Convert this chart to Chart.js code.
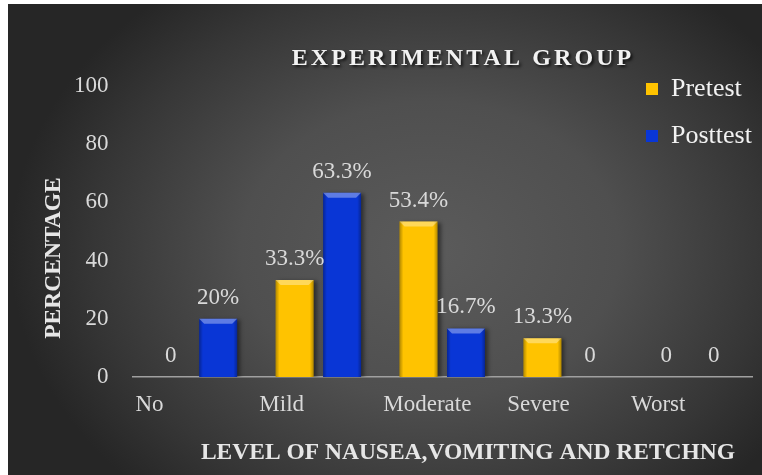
<!DOCTYPE html>
<html><head><meta charset="utf-8">
<script src="https://cdn.jsdelivr.net/npm/chart.js@4.4.1/dist/chart.umd.min.js"></script>
<style>html,body{margin:0;padding:0;background:#fff}canvas{display:block}</style>
</head><body>
<canvas id="c" width="762" height="475"></canvas>
<script>
const categories = ['No', 'Mild', 'Moderate', 'Severe', 'Worst'];
const seriesNames = ['Pretest', 'Posttest'];
const pretestValues = [0, 33.3, 53.4, 13.3, 0];
const posttestValues = [20, 63.3, 16.7, 0, 0];
const yTickValues = [0, 20, 40, 60, 80, 100];
const chartTitle = 'EXPERIMENTAL GROUP';
const xTitle = 'LEVEL OF NAUSEA,VOMITING AND RETCHNG';
const yTitle = 'PERCENTAGE';

const SERIF = "'Liberation Serif','Times New Roman',serif";

function centerBox(box, cx, total) {
  const half = Math.min(cx, total - cx);
  box.left = cx - half;
  box.right = cx + half;
  box.width = box.right - box.left;
}

const decor = {
  id: 'decor',
  beforeDraw(chart) {
    const c = chart.ctx;
    c.save();
    c.fillStyle = '#ffffff';
    c.fillRect(0, 0, chart.width, chart.height);
    c.beginPath();
    c.rect(8, 4, chart.width - 8, chart.height - 4);
    c.clip();
    const cx = 430, cy = 250, rx = 420, ry = 330;
    c.translate(cx, cy);
    c.scale(1, ry / rx);
    const g = c.createRadialGradient(0, 0, 0, 0, 0, rx);
    g.addColorStop(0, '#5b5b5b');
    g.addColorStop(0.45, '#4f4f4f');
    g.addColorStop(0.8, '#363636');
    g.addColorStop(1, '#262626');
    c.fillStyle = g;
    c.fillRect(-3000, -3000, 6000, 6000);
    c.restore();
  },
  afterLayout(chart) {
    const W = chart.width;
    const tb = chart.titleBlock;
    if (tb) {
      centerBox(tb, 463, W);
      if (!tb.__patched) {
        const orig = tb.draw.bind(tb);
        tb.draw = function (area) {
          const c = this.ctx;
          c.save();
          c.letterSpacing = '3.1px';
          c.shadowColor = 'rgba(0,0,0,0.7)';
          c.shadowOffsetX = 2;
          c.shadowOffsetY = 2;
          c.shadowBlur = 3;
          orig(area);
          c.restore();
        };
        tb.__patched = true;
      }
    }
    const sub = chart.boxes.find(b => b !== tb && b.options && b.options.text === xTitle);
    if (sub) centerBox(sub, 468, W);
    const lg = chart.legend;
    if (lg) {
      lg.left = 625;
      lg.top = 55;
    }
    const ys = chart.scales.y;
    if (ys && !ys.__patched) {
      const o = ys.drawTitle.bind(ys);
      ys.drawTitle = function () {
        const c = this.ctx;
        c.save();
        c.translate(0, 26.5);
        o();
        c.restore();
      };
      ys.__patched = true;
    }
  },
  beforeDatasetsDraw(chart) {
    const c = chart.ctx;
    c.save();
    c.shadowColor = 'rgba(0,0,0,0.45)';
    c.shadowOffsetX = 3;
    c.shadowOffsetY = 1;
    c.shadowBlur = 4;
  },
  afterDatasetsDraw(chart) {
    const c = chart.ctx;
    c.restore();
    chart.data.datasets.forEach((ds, di) => {
      const meta = chart.getDatasetMeta(di);
      meta.data.forEach((el) => {
        const p = el.getProps(['x', 'y', 'base', 'width'], true);
        const h = p.base - p.y;
        if (h < 1) return;
        const l = p.x - p.width / 2, r = p.x + p.width / 2;
        const g = c.createLinearGradient(l, 0, r, 0);
        g.addColorStop(0, 'rgba(0,0,0,0.30)');
        g.addColorStop(0.1, 'rgba(0,0,0,0)');
        g.addColorStop(0.9, 'rgba(0,0,0,0)');
        g.addColorStop(1, 'rgba(0,0,0,0.30)');
        c.fillStyle = g;
        c.fillRect(l, p.y, p.width, h);
        const b = Math.min(5, h / 2);
        c.beginPath();
        c.moveTo(l, p.y);
        c.lineTo(r, p.y);
        c.lineTo(r - b, p.y + b);
        c.lineTo(l + b, p.y + b);
        c.closePath();
        c.fillStyle = 'rgba(255,255,255,0.35)';
        c.fill();
      });
    });
    c.save();
    c.font = '23px ' + SERIF;
    c.fillStyle = '#d9d9d9';
    c.textAlign = 'center';
    c.textBaseline = 'middle';
    chart.data.datasets.forEach((ds, di) => {
      chart.getDatasetMeta(di).data.forEach((el, i) => {
        const v = ds.data[i];
        const t = v === 0 ? '0' : v + '%';
        c.fillText(t, el.x, el.y - 21);
      });
    });
    c.restore();
  }
};

new Chart(document.getElementById('c'), {
  type: 'bar',
  data: {
    labels: categories,
    datasets: [
      { label: seriesNames[0], data: pretestValues, backgroundColor: '#ffc300', borderWidth: 0 },
      { label: seriesNames[1], data: posttestValues, backgroundColor: '#0936d6', borderWidth: 0 }
    ]
  },
  options: {
    responsive: false,
    animation: false,
    events: [],
    layout: { padding: { left: 8, right: 10, top: 0, bottom: 0 } },
    datasets: { bar: { categoryPercentage: 0.766, barPercentage: 0.8 } },
    scales: {
      x: {
        offset: true,
        grid: { display: false, drawTicks: false },
        border: { display: true, color: '#a0a0a0', width: 1.5 },
        ticks: { align: 'start', labelOffset: -59, padding: 14, maxRotation: 0, autoSkip: false,
                 color: '#d9d9d9', font: { size: 23, family: SERIF } }
      },
      y: {
        min: 0, max: 100,
        grid: { display: false, drawTicks: false },
        border: { display: false },
        afterBuildTicks: (s) => { s.ticks = yTickValues.map(v => ({ value: v })); },
        ticks: { padding: 24, color: '#d9d9d9', font: { size: 23, family: SERIF } },
        title: { display: true, text: yTitle, color: '#e6e6e6',
                 font: { size: 23.5, weight: 'bold', family: SERIF }, padding: { top: 31.9, bottom: -18.1 } }
      }
    },
    plugins: {
      title: { display: true, text: chartTitle, color: '#f2f2f2',
               font: { size: 24, weight: 'bold', family: SERIF }, padding: { top: 44.4, bottom: 12.8 } },
      subtitle: { display: true, position: 'bottom', text: xTitle, color: '#e6e6e6',
                  font: { size: 23.5, weight: 'bold', family: SERIF }, padding: { top: 6.3, bottom: 7.9 } },
      legend: { position: 'chartArea', align: 'start',
                labels: { boxWidth: 12, boxHeight: 12, padding: 21, color: '#f2f2f2',
                          font: { size: 26, family: SERIF } } },
      tooltip: { enabled: false }
    }
  },
  plugins: [decor]
});
</script>
</body></html>
